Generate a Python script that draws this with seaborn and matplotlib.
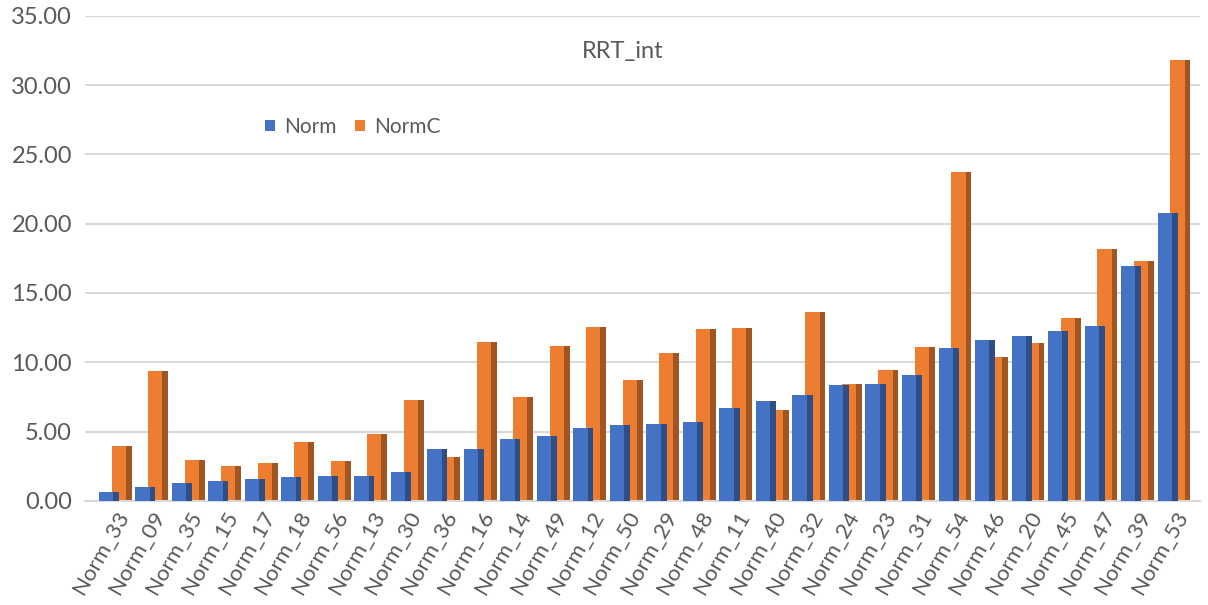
import pandas as pd
import matplotlib.pyplot as plt
import seaborn as sns
from matplotlib.patches import Rectangle
from matplotlib.colors import to_rgb

samples = ['Norm_33', 'Norm_09', 'Norm_35', 'Norm_15', 'Norm_17', 'Norm_18', 'Norm_56', 'Norm_13',
           'Norm_30', 'Norm_36', 'Norm_16', 'Norm_14', 'Norm_49', 'Norm_12', 'Norm_50', 'Norm_29',
           'Norm_48', 'Norm_11', 'Norm_40', 'Norm_32', 'Norm_24', 'Norm_23', 'Norm_31', 'Norm_54',
           'Norm_46', 'Norm_20', 'Norm_45', 'Norm_47', 'Norm_39', 'Norm_53']
norm = [0.65, 1.01, 1.30, 1.47, 1.59, 1.75, 1.83, 1.83, 2.12, 3.73, 3.77, 4.47, 4.69, 5.26, 5.46,
        5.55, 5.72, 6.68, 7.21, 7.67, 8.39, 8.44, 9.06, 11.01, 11.61, 11.88, 12.24, 12.64, 16.92, 20.77]
normc = [3.94, 9.35, 2.98, 2.50, 2.76, 4.23, 2.86, 4.81, 7.26, 3.17, 11.47, 7.50, 11.15, 12.55, 8.70,
         10.67, 12.42, 12.48, 6.54, 13.62, 8.44, 9.47, 11.08, 23.73, 10.36, 11.37, 13.20, 18.17, 17.28, 31.80]
series = ['Norm', 'NormC']
colors = {'Norm': '#4472C4', 'NormC': '#ED7D31'}

df = pd.DataFrame({'sample': samples * 2,
                   'value': norm + normc,
                   'series': ['Norm'] * len(norm) + ['NormC'] * len(normc)})

sns.set_style('white')
plt.rcParams['font.family'] = ['Lato', 'DejaVu Sans']
txt = '#595959'

fig = plt.figure(figsize=(12.08, 6.05), dpi=100)
ax = fig.add_axes([0.070, 0.172, 0.923, 0.802])

sns.barplot(data=df, x='sample', y='value', hue='series', hue_order=series, order=samples,
            palette=colors, width=0.7, saturation=1, errorbar=None, ax=ax, linewidth=0)

# widen bars so they overlap like the 3-D clustered columns, blue in front
bar_w = 0.55
for cont, z in zip(ax.containers, [3, 2]):
    base = to_rgb(cont.patches[0].get_facecolor())
    dark = tuple(c * 0.68 for c in base)
    for p in cont.patches:
        c = p.get_x() + p.get_width() / 2
        p.set_width(bar_w)
        p.set_x(c - bar_w / 2)
        p.set_zorder(z)
        side = Rectangle((p.get_x() + 0.71 * bar_w, 0), 0.29 * bar_w, p.get_height(),
                         facecolor=dark, linewidth=0, zorder=z + 0.01)
        ax.add_patch(side)

ax.set_ylim(0, 35)
ax.set_xlim(-0.84, 29.7)
ax.set_yticks(range(0, 36, 5))
ax.set_yticklabels([f'{v:.2f}' for v in range(0, 36, 5)], fontsize=17, color=txt)
ax.yaxis.grid(True, color='#D9D9D9', linewidth=1.5)
ax.set_axisbelow(True)
ax.tick_params(axis='both', length=0)
ax.tick_params(axis='y', pad=9)
ax.tick_params(axis='x', pad=5)
plt.setp(ax.get_xticklabels(), rotation=60, ha='right', va='top', rotation_mode='anchor',
         fontsize=16, color=txt)
ax.set_xlabel('')
ax.set_ylabel('')
for s in ['top', 'right', 'left']:
    ax.spines[s].set_visible(False)
ax.spines['bottom'].set_color('#D9D9D9')
ax.spines['bottom'].set_linewidth(1.5)

ax.text(0.483, 0.926, 'RRT_int', transform=ax.transAxes, ha='center', va='center',
        fontsize=17, color=txt)

sns.move_legend(ax, 'center left', bbox_to_anchor=(0.145, 0.771), ncol=2, frameon=False,
                title=None, fontsize=15, handlelength=0.5, handleheight=0.5,
                handletextpad=0.4, columnspacing=0.9, labelcolor=txt)

fig.savefig('out.png', dpi=100)
